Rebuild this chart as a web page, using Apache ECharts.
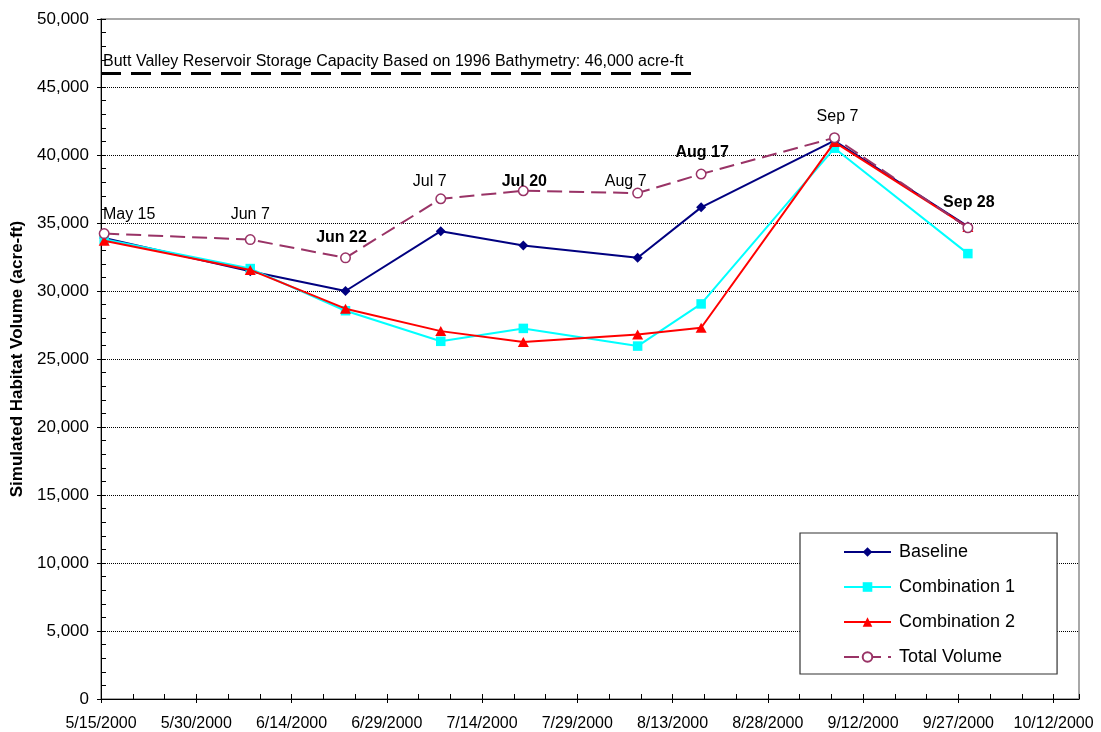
<!DOCTYPE html>
<html>
<head>
<meta charset="utf-8">
<title>Butt Valley Reservoir – Simulated Habitat Volume</title>
<script src="https://cdn.jsdelivr.net/npm/echarts@6/dist/echarts.min.js"></script>
<style>
  html, body { margin: 0; padding: 0; background: #fff; }
  #chart { width: 1101px; height: 732px; }
</style>
</head>
<body>
<div id="chart"></div>
<script>
// Sample dates (m/d/yyyy) and simulated habitat volumes (acre-ft)
const sampleDates = ['5/15/2000', '6/7/2000', '6/22/2000', '7/7/2000', '7/20/2000', '8/7/2000', '8/17/2000', '9/7/2000', '9/28/2000'];
const baseline     = [33900, 31450, 30000, 34400, 33350, 32450, 36150, 41050, 34750];
const combination1 = [33800, 31650, 28550, 26300, 27250, 25950, 29050, 40500, 32750];
const combination2 = [33700, 31550, 28700, 27050, 26250, 26800, 27300, 40950, 34700];
const totalVolume  = [34220, 33780, 32440, 36780, 37370, 37200, 38600, 41270, 34650];

// Date annotations shown above the Total Volume points (bold ones highlighted)
const annotationText = ['May 15', 'Jun 7', 'Jun 22', 'Jul 7', 'Jul 20', 'Aug 7', 'Aug 17', 'Sep 7', 'Sep 28'];
const annotationBold = [false, false, true, false, true, false, true, false, true];

// X axis tick labels (every 15 days from the axis start)
const xTickLabels = ['5/15/2000', '5/30/2000', '6/14/2000', '6/29/2000', '7/14/2000', '7/29/2000',
                     '8/13/2000', '8/28/2000', '9/12/2000', '9/27/2000', '10/12/2000'];

// Reservoir storage capacity reference
const capacityValue = 46000;
const capacityText = 'Butt Valley Reservoir Storage Capacity Based on 1996 Bathymetry: 46,000 acre-ft';
const capacityEndDate = '8/17/2000';

// ---- layout / style ----
const FONT = "'Liberation Sans', Arial, Helvetica, sans-serif";
const AXIS_START = Date.UTC(2000, 4, 15);
const AXIS_DAYS = 154;          // axis runs through 10/16/2000
const TICK_STEP = 15;
const SLOT_CENTER = 0.5;         // points sit in the middle of their day slot
// label centre offsets (px) relative to each Total Volume point
const annotationOffsets = [[25, -19], [0, -25], [-4, -20], [-11, -17], [1, -9], [-12, -11], [1, -21], [3, -21], [1, -25]];

function dayIndex(str) {
  const [m, d, y] = str.split('/').map(Number);
  return (Date.UTC(y, m - 1, d) - AXIS_START) / 86400000;
}
const xs = sampleDates.map(s => dayIndex(s) + SLOT_CENTER);
const pairs = vals => vals.map((v, i) => [xs[i], v]);
const majorTicks = xTickLabels.map((_, i) => i * TICK_STEP);

const totalData = totalVolume.map((v, i) => ({
  value: [xs[i], v],
  label: {
    show: true,
    formatter: annotationText[i],
    position: 'inside',
    offset: annotationOffsets[i],
    color: '#000',
    fontFamily: FONT,
    fontSize: 16,
    fontWeight: annotationBold[i] ? 'bold' : 'normal'
  }
}));

const chart = echarts.init(document.getElementById('chart'), null, { renderer: 'canvas' });

const option = {
  animation: false,
  backgroundColor: '#fff',
  textStyle: { fontFamily: FONT },
  grid: {
    left: 101, top: 19, width: 978, height: 680,
    outerBoundsMode: 'none',
    containLabel: false,
    show: true, borderColor: '#8c8c8c', borderWidth: 1.5, backgroundColor: 'transparent'
  },
  legend: {
    orient: 'vertical',
    left: 800, top: 533,
    data: ['Baseline', 'Combination 1', 'Combination 2', 'Total Volume'],
    backgroundColor: '#fff',
    borderColor: '#333',
    borderWidth: 1.2,
    padding: [10, 42, 8, 43],
    itemWidth: 47, itemHeight: 12, itemGap: 17,
    textStyle: { fontFamily: FONT, fontSize: 18, color: '#000', lineHeight: 18, padding: [0, 0, 0, 3] }
  },
  xAxis: [
    {
      type: 'value', min: 0, max: AXIS_DAYS, interval: TICK_STEP,
      position: 'bottom',
      axisLine: { onZero: false, lineStyle: { color: '#000', width: 1 } },
      axisTick: { show: true, inside: false, length: 4, customValues: majorTicks, lineStyle: { color: '#000' } },
      axisLabel: {
        customValues: majorTicks,
        color: '#000', fontFamily: FONT, fontSize: 16, margin: 17,
        formatter: v => {
          const i = Math.round(v / TICK_STEP);
          return Math.abs(v - i * TICK_STEP) < 1e-6 && xTickLabels[i] ? xTickLabels[i] : '';
        }
      },
      splitLine: { show: false }
    },
    {
      type: 'value', min: 0, max: AXIS_DAYS, interval: 5,
      position: 'bottom',
      axisLine: { show: false, onZero: false },
      axisTick: { show: true, inside: true, length: 5, lineStyle: { color: '#000' } },
      axisLabel: { show: false },
      splitLine: { show: false }
    }
  ],
  yAxis: [
    {
      type: 'value', min: 0, max: 50000, interval: 5000,
      position: 'left',
      name: 'Simulated Habitat Volume (acre-ft)',
      nameLocation: 'middle', nameRotate: 90, nameGap: 72,
      nameTextStyle: { fontFamily: FONT, fontSize: 17, fontWeight: 'bold', color: '#000' },
      axisLine: { show: true, lineStyle: { color: '#000', width: 1 } },
      axisTick: { show: true, inside: false, length: 4, lineStyle: { color: '#000' } },
      axisLabel: {
        color: '#000', fontFamily: FONT, fontSize: 17, margin: 12,
        formatter: v => v.toLocaleString('en-US')
      },
      splitLine: {
        show: true, showMinLine: false, showMaxLine: false,
        lineStyle: { color: '#000', width: 1, type: [1, 1] }
      }
    },
    {
      type: 'value', min: 0, max: 50000, interval: 1000,
      position: 'left',
      axisLine: { show: false },
      axisTick: { show: true, inside: true, length: 5, lineStyle: { color: '#000' } },
      axisLabel: { show: false },
      splitLine: { show: false }
    }
  ],
  series: [
    {
      name: 'Baseline', type: 'line', xAxisIndex: 0, yAxisIndex: 0,
      data: pairs(baseline),
      symbol: 'diamond', symbolSize: 10,
      lineStyle: { color: '#000080', width: 2 },
      itemStyle: { color: '#000080' },
      z: 3,
      markLine: {
        silent: true, symbol: 'none', animation: false,
        lineStyle: { color: '#000', width: 3, type: [20, 10] },
        label: {
          show: true, position: 'insideStartTop', formatter: capacityText,
          color: '#000', fontFamily: FONT, fontSize: 16, distance: [2, 4]
        },
        data: [[{ coord: [0, capacityValue] }, { coord: [dayIndex(capacityEndDate), capacityValue] }]]
      }
    },
    {
      name: 'Combination 1', type: 'line', xAxisIndex: 0, yAxisIndex: 0,
      data: pairs(combination1),
      symbol: 'rect', symbolSize: 9.5,
      lineStyle: { color: '#00FFFF', width: 2 },
      itemStyle: { color: '#00FFFF' },
      z: 4
    },
    {
      name: 'Combination 2', type: 'line', xAxisIndex: 0, yAxisIndex: 0,
      data: pairs(combination2),
      symbol: 'triangle', symbolSize: [11, 10],
      lineStyle: { color: '#FF0000', width: 2 },
      itemStyle: { color: '#FF0000' },
      z: 5
    },
    {
      name: 'Total Volume', type: 'line', xAxisIndex: 0, yAxisIndex: 0,
      data: totalData,
      symbol: 'circle', symbolSize: 9.5,
      lineStyle: { color: '#993366', width: 2, type: [15, 7] },
      itemStyle: { color: '#fff', borderColor: '#993366', borderWidth: 1.5 },
      z: 6
    }
  ]
};

chart.setOption(option);
</script>
</body>
</html>
